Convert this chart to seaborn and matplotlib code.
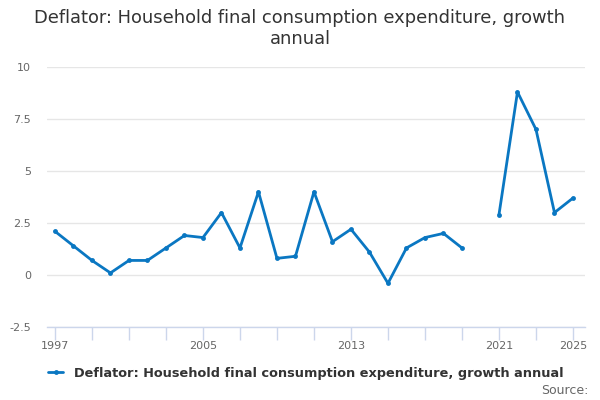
import numpy as np
import pandas as pd
import matplotlib
matplotlib.use("Agg")
import matplotlib.pyplot as plt
from matplotlib.lines import Line2D
import seaborn as sns

TITLE = "Deflator: Household final consumption expenditure, growth\nannual"
SERIES_NAME = "Deflator: Household final consumption expenditure, growth annual"
LINE_COLOR = "#0a77c2"

years = list(range(1997, 2026))
values = [2.1, 1.4, 0.7, 0.1, 0.7, 0.7, 1.3, 1.9, 1.8, 3.0,
          1.3, 4.0, 0.8, 0.9, 4.0, 1.6, 2.2, 1.1, -0.4, 1.3,
          1.8, 2.0, 1.3, np.nan, 2.9, 8.8, 7.0, 3.0, 3.7]

y_ticks = [-2.5, 0, 2.5, 5, 7.5, 10]
y_tick_labels = ["-2.5", "0", "2.5", "5", "7.5", "10"]
x_minor = list(range(1997, 2026, 2))
x_major = [1997, 2005, 2013, 2021, 2025]

df = pd.DataFrame({"year": years, "value": values})
# split at the missing year so the line has a gap
df["segment"] = df["value"].isna().cumsum()
df = df.dropna()

sns.set_style("white")
plt.rcParams["font.family"] = ["DejaVu Sans"]

fig = plt.figure(figsize=(6, 4), dpi=100)
ax = fig.add_axes([47 / 600, 1 - 327 / 400, 538 / 600, 260 / 400])

sns.lineplot(data=df, x="year", y="value", units="segment", estimator=None,
             color=LINE_COLOR, linewidth=2, marker="o", markersize=3.5,
             markeredgewidth=0, ax=ax, legend=False)

ax.set_xlim(1996.57, 2025.65)
ax.set_ylim(-2.5, 10)
ax.set_yticks(y_ticks)
ax.set_yticklabels(y_tick_labels)
ax.set_xticks(x_minor, minor=True)
ax.set_xticks(x_major)
ax.set_xticklabels([str(y) for y in x_major])

ax.grid(axis="y", color="#e6e6e6", linewidth=1)
ax.set_axisbelow(True)
for side in ["top", "right", "left"]:
    ax.spines[side].set_visible(False)
ax.spines["bottom"].set_color("#ccd6eb")
ax.spines["bottom"].set_linewidth(1)

ax.tick_params(axis="y", left=False, length=0, labelsize=8,
               labelcolor="#666666", pad=11.5)
ax.tick_params(axis="x", which="both", bottom=True, direction="out", length=9,
               color="#ccd6eb", width=1)
ax.tick_params(axis="x", which="major", labelsize=8, labelcolor="#666666", pad=1)
ax.set_xlabel("")
ax.set_ylabel("")

fig.text(0.5, 0.978, TITLE, ha="center", va="top", fontsize=12.9,
         color="#333333", linespacing=1.2)

handle = Line2D([0], [0], color=LINE_COLOR, linewidth=2, marker="o",
                markersize=3.5, markeredgewidth=0)
fig.legend([handle], [SERIES_NAME], loc="center", bbox_to_anchor=(306 / 600, 1 - 373 / 400),
           frameon=False, handlelength=1.17, handletextpad=0.85,
           prop={"size": 9.25, "weight": "bold"}, labelcolor="#333333")

fig.text(0.98, 1 - 390 / 400, "Source:", ha="right", va="center",
         fontsize=9, color="#666666")

fig.savefig("out.png", dpi=100)
